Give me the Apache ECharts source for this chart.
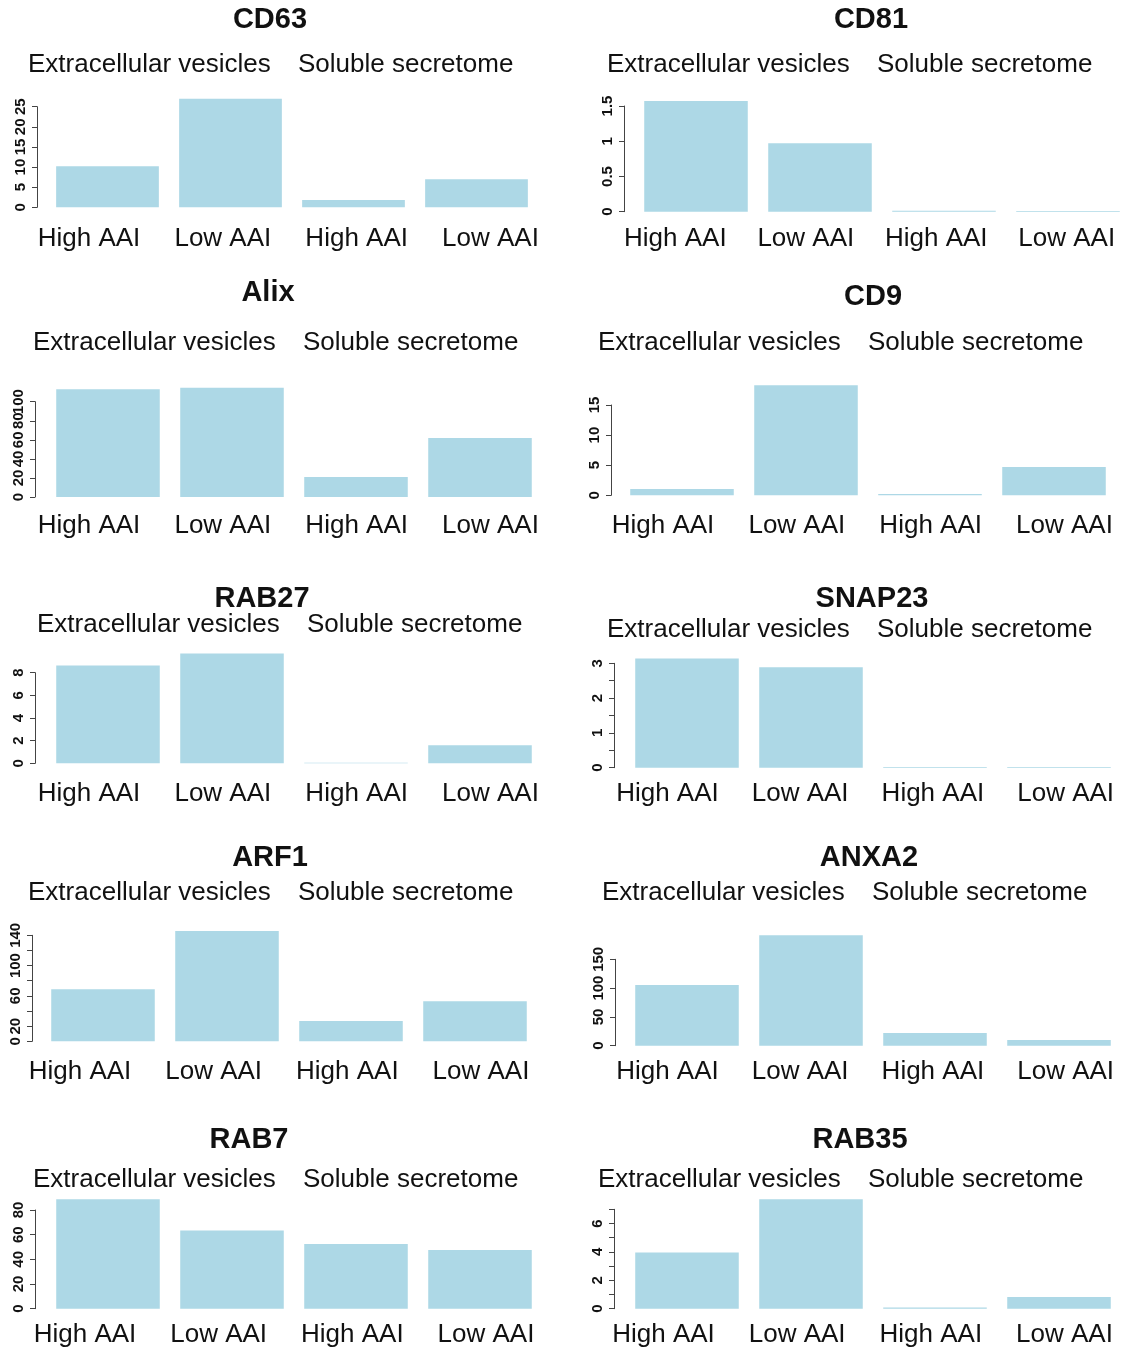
<!DOCTYPE html>
<html>
<head>
<meta charset="utf-8">
<script src="https://cdn.jsdelivr.net/npm/echarts@6/dist/echarts.min.js"></script>
<style>html,body{margin:0;padding:0;background:#fff}#c{width:1132px;height:1351px}</style>
</head>
<body>
<div id="c"></div>
<script>
// ---- data ----
const categories = ['High AAI', 'Low AAI', 'High AAI', 'Low AAI'];
const groupLabels = ['Extracellular vesicles', 'Soluble secretome'];
const panelNames = ['CD63', 'CD81', 'Alix', 'CD9', 'RAB27', 'SNAP23', 'ARF1', 'ANXA2', 'RAB7', 'RAB35'];

const cd63 = [10.2, 27.0, 1.8, 7.0];
const cd81 = [1.57, 0.97, 0.015, 0.01];
const alix = [113, 114.7, 21, 62];
const cd9 = [1.05, 18.3, 0.2, 4.7];
const rab27 = [8.64, 9.7, 0.05, 1.6];
const snap23 = [3.14, 2.89, 0.02, 0.02];
const arf1 = [68.7, 145.7, 26.8, 53];
const anxa2 = [105.5, 191.8, 22, 10];
const rab7 = [88.7, 63.3, 52.5, 47.6];
const rab35 = [3.95, 7.71, 0.08, 0.82];
const panelValues = [cd63, cd81, alix, cd9, rab27, snap23, arf1, anxa2, rab7, rab35];

// y-axis: top tick, tick step, labelled ticks
const axisTop = [25, 1.5, 100, 15, 8, 3, 140, 150, 80, 7];
const axisStep = [5, 0.5, 20, 5, 2, 0.5, 20, 50, 20, 1];
const cd63Ticks = [0, 5, 10, 15, 20, 25];
const cd81Ticks = [0, 0.5, 1, 1.5];
const alixTicks = [0, 20, 40, 60, 80, 100];
const cd9Ticks = [0, 5, 10, 15];
const rab27Ticks = [0, 2, 4, 6, 8];
const snap23Ticks = [0, 1, 2, 3];
const arf1Ticks = [0, 20, 60, 100, 140];
const anxa2Ticks = [0, 50, 100, 150];
const rab7Ticks = [0, 20, 40, 60, 80];
const rab35Ticks = [0, 2, 4, 6];
const panelTicks = [cd63Ticks, cd81Ticks, alixTicks, cd9Ticks, rab27Ticks, snap23Ticks, arf1Ticks, anxa2Ticks, rab7Ticks, rab35Ticks];

// ---- layout (pixels) ----
// [gridLeft, gridWidth, topTickY, zeroY, axisOffset]
const plotBox = [
  [46, 492, 106.7, 207.3, 9],
  [634, 496, 106, 211.7, 10],
  [46, 496, 401.7, 497, 11],
  [620, 496, 405, 495.3, 9],
  [46, 496, 672.7, 763.3, 11],
  [625, 496, 663.3, 767.7, 11],
  [41, 496, 935.3, 1041.3, 9],
  [625, 496, 959.3, 1045.7, 10],
  [46, 496, 1210, 1308.7, 11],
  [625, 496, 1209.3, 1308.7, 11]
];
// [firstLabelCentre, lastLabelCentre, labelCentreY]
const labelBox = [
  [89, 490.5, 238], [677, 1078.5, 238],
  [89, 490.5, 525], [663, 1064.5, 525],
  [89, 490.5, 793], [668, 1069.5, 793],
  [80, 481, 1071], [668, 1069.5, 1071],
  [85, 486, 1334], [663.5, 1064.5, 1334]
];
// [titleCentreX, titleCentreY, subtitleLeftX, subtitleCentreY]
const headBox = [
  [270, 18, 28, 64], [871, 18, 607, 64],
  [268, 291, 33, 342], [873, 295, 598, 342],
  [262, 597, 37, 624], [872, 597, 607, 629],
  [270, 856, 28, 892], [869, 856, 602, 892],
  [249, 1138, 33, 1179], [860, 1138, 598, 1179]
];

const FONT = 'Liberation Sans';
const BAR = '#ADD8E6';
const grids = [], xAxes = [], yAxes = [], series = [], titles = [];

const isIn = (list, v) => list.some(t => Math.abs(t - v) < 1e-9);

panelNames.forEach((name, i) => {
  const [gl, gw, ty, zy, off] = plotBox[i];
  const ticks = panelTicks[i];
  const lowerTicks = ticks.slice(0, -1);
  const topTick = ticks.slice(-1);
  const labelStyle = {rotate: 90, margin: 9, fontSize: 15, fontWeight: 'bold', fontFamily: FONT, color: '#111',
    showMinLabel: true, showMaxLabel: true, hideOverlap: false};

  // main plot grid
  const gi = grids.length;
  grids.push({left: gl, width: gw, top: ty, height: zy - ty});
  xAxes.push({gridIndex: gi, type: 'category', data: categories, show: false});
  yAxes.push({
    gridIndex: gi, type: 'value', min: 0, max: axisTop[i], interval: axisStep[i], offset: off,
    axisLine: {show: true, lineStyle: {color: '#444', width: 1}},
    axisTick: {show: true, length: 5, lineStyle: {color: '#444', width: 1}},
    splitLine: {show: false},
    axisLabel: Object.assign({}, labelStyle, {formatter: v => isIn(lowerTicks, v) ? String(v) : ''})
  });
  series.push({
    type: 'bar', xAxisIndex: gi, yAxisIndex: gi, data: panelValues[i],
    barCategoryGap: '16.5%', clip: false, silent: true,
    itemStyle: {color: BAR}
  });

  // twin grid carrying only the top tick label (avoids ECharts dropping overlapping labels)
  const ti = grids.length;
  grids.push({left: gl, width: gw, top: ty, height: zy - ty});
  xAxes.push({gridIndex: ti, type: 'category', data: categories, show: false});
  yAxes.push({
    gridIndex: ti, type: 'value', min: 0, max: axisTop[i], interval: axisStep[i], offset: off,
    axisLine: {show: false}, axisTick: {show: true, length: 5, lineStyle: {color: 'rgba(0,0,0,0)'}},
    splitLine: {show: false},
    axisLabel: Object.assign({}, labelStyle, {formatter: v => isIn(topTick, v) ? String(v) : ''})
  });

  // category label axis
  const [c0, c3, ly] = labelBox[i];
  const s = (c3 - c0) / 3;
  const li = grids.length;
  grids.push({left: c0 - s / 2, width: 4 * s, top: ly - 13, height: 1});
  xAxes.push({
    gridIndex: li, type: 'category', data: categories,
    axisLine: {show: false}, axisTick: {show: false},
    axisLabel: {interval: 0, margin: 0, fontSize: 26, fontFamily: FONT, color: '#111'}
  });
  yAxes.push({gridIndex: li, type: 'value', show: false});

  const [tx, tyc, sx, syc] = headBox[i];
  titles.push({text: name, left: tx, top: tyc - 13, textAlign: 'center', padding: 0,
    textStyle: {fontSize: 29, fontWeight: 'bold', fontFamily: FONT, color: '#111'}});
  titles.push({text: groupLabels[0], left: sx, top: syc - 12, padding: 0,
    textStyle: {fontSize: 26, fontWeight: 'normal', fontFamily: FONT, color: '#111'}});
  titles.push({text: groupLabels[1], left: sx + 270, top: syc - 12, padding: 0,
    textStyle: {fontSize: 26, fontWeight: 'normal', fontFamily: FONT, color: '#111'}});
});

const chart = echarts.init(document.getElementById('c'), null, {renderer: 'canvas'});
chart.setOption({
  animation: false,
  backgroundColor: '#fff',
  title: titles,
  grid: grids,
  xAxis: xAxes,
  yAxis: yAxes,
  series: series
});
</script>
</body>
</html>
